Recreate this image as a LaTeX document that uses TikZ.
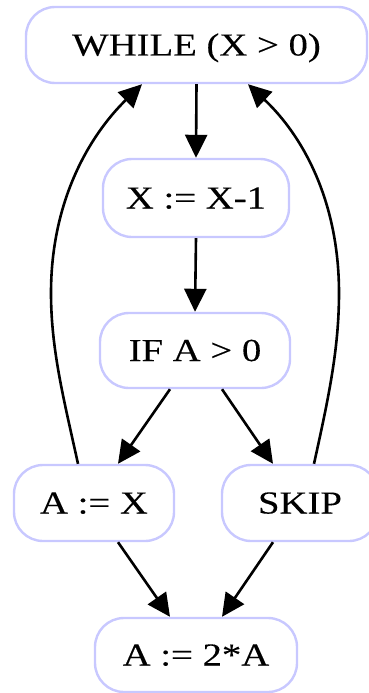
\documentclass[tikz,border=0pt]{standalone}
\usepackage{fontspec}
\setmainfont{Liberation Serif}[FakeStretch=1.21,FakeBold=0.2]
\usetikzlibrary{arrows.meta}
\definecolor{nodeborder}{RGB}{200,200,255}
\begin{document}
\begin{tikzpicture}[x=1pt,y=-1pt,
  box/.style={draw=nodeborder, line width=2.4pt, rounded corners=29pt, inner sep=0pt,
    font=\fontsize{32}{38}\selectfont, text height=21pt, text depth=0pt, align=center},
  edge/.style={line width=2.6pt, -{Triangle[length=23pt,width=22pt]}}]
\useasboundingbox (0,0) rectangle (369,693);
\node[box, minimum width=341pt, minimum height=76pt] (W) at (196.5,45) {WHILE (X > 0)};
\node[box, minimum width=186pt, minimum height=78pt] (X) at (196,198) {X := X-1};
\node[box, minimum width=190pt, minimum height=75pt] (IF) at (195,350.5) {IF A > 0};
\node[box, minimum width=160pt, minimum height=76pt] (AX) at (94,503) {A := X};
\node[box, minimum width=156pt, minimum height=76pt] (SK) at (300,503) {SKIP};
\node[box, minimum width=202pt, minimum height=74pt] (A2) at (196,655) {A := 2*A};
\draw[edge] (W.south) -- (X.north);
\draw[edge] (X.south) -- (IF.north);
\draw[edge] ([xshift=-25pt]IF.south) -- ([xshift=24pt]AX.north);
\draw[edge] ([xshift=27pt]IF.south) -- ([xshift=-27pt]SK.north);
\draw[edge] ([xshift=24pt]AX.south) -- ([xshift=-26pt]A2.north);
\draw[edge] ([xshift=-27pt]SK.south) -- ([xshift=26pt]A2.north);
\draw[edge] ([xshift=-16pt]AX.north) .. controls (64,400) and (51,350) .. (51,293)
  .. controls (51,200) and (90,135) .. ([xshift=-54.5pt]W.south);
\draw[edge] ([xshift=14pt]SK.north) .. controls (328,400) and (339,350) .. (339,293)
  .. controls (339,200) and (302,135) .. ([xshift=51.5pt]W.south);
\end{tikzpicture}
\end{document}
